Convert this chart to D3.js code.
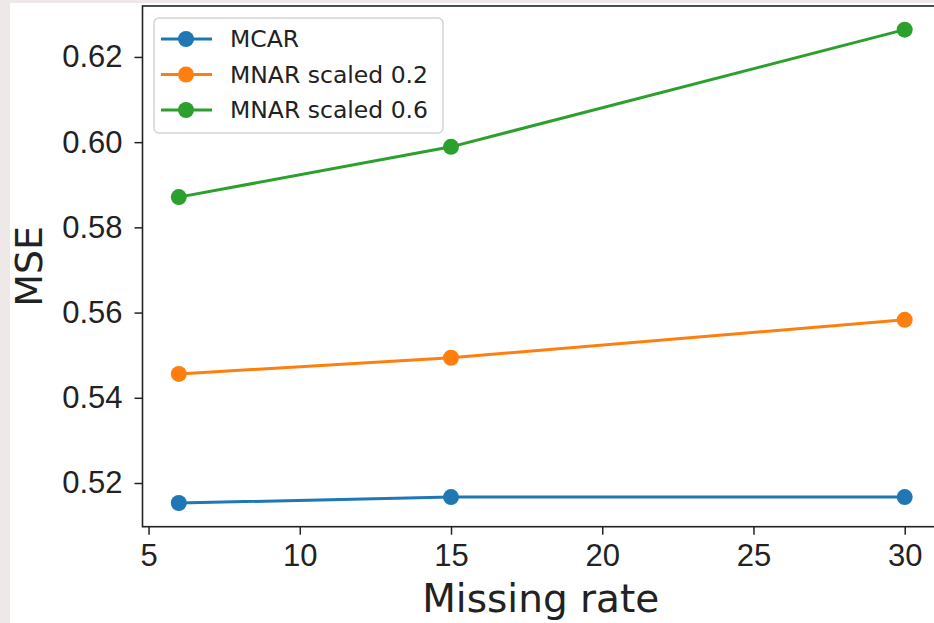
<!DOCTYPE html>
<html>
<head>
<meta charset="utf-8">
<script src="https://d3js.org/d3.v7.min.js"></script>
<style>
  body { margin: 0; background: #fff; }
  svg { display: block; font-family: "DejaVu Sans", sans-serif; }
</style>
</head>
<body>
<svg width="934" height="623"></svg>
<script>
// data
const missingRates = [6, 15, 30];
const seriesNames = ["MCAR", "MNAR scaled 0.2", "MNAR scaled 0.6"];
const mcar = [0.5153, 0.5167, 0.5167];
const mnar02 = [0.5456, 0.5494, 0.5583];
const mnar06 = [0.5871, 0.5989, 0.6264];
const xTicks = [5, 10, 15, 20, 25, 30];
const yTicks = [0.52, 0.54, 0.56, 0.58, 0.60, 0.62];
const colors = ["#1f77b4", "#ff7f0e", "#2ca02c"];

const series = [mcar, mnar02, mnar06].map((vals, i) => ({
  name: seriesNames[i],
  color: colors[i],
  points: vals.map((v, j) => ({x: missingRates[j], y: v}))
}));

const width = 934;
const height = 623;
const plot = {left: 142.5, right: 941, top: 6, bottom: 526.7};

const svg = d3.select('svg');

// page strip like the cropped screenshot
svg.append('rect').attr('width', width).attr('height', height).attr('fill', '#eee8e8');
svg.append('rect').attr('x', 10).attr('y', 3).attr('width', width - 10).attr('height', height - 3).attr('fill', '#fff');

// matplotlib style 5% margins
const xMin = d3.min(missingRates), xMax = d3.max(missingRates);
const xPad = (xMax - xMin) * 0.05;
const allY = [].concat(mcar, mnar02, mnar06);
const yMin = d3.min(allY), yMax = d3.max(allY);
const yPad = (yMax - yMin) * 0.05;

const x = d3.scaleLinear().domain([xMin - xPad, xMax + xPad]).range([plot.left, plot.right]);
const y = d3.scaleLinear().domain([yMin - yPad, yMax + yPad]).range([plot.bottom, plot.top]);

// axes
const xAxis = svg.append('g')
  .attr('transform', `translate(0,${plot.bottom})`)
  .call(d3.axisBottom(x).tickValues(xTicks).tickFormat(d3.format('d')).tickSize(8).tickPadding(9).tickSizeOuter(0));
const yAxis = svg.append('g')
  .attr('transform', `translate(${plot.left},0)`)
  .call(d3.axisLeft(y).tickValues(yTicks).tickFormat(d3.format('.2f')).tickSize(8).tickPadding(12).tickSizeOuter(0));

[xAxis, yAxis].forEach(ax => {
  ax.select('.domain').remove();
  ax.selectAll('.tick line').attr('stroke', '#222').attr('stroke-width', 1.5);
  ax.selectAll('.tick text').attr('fill', '#222').style('font-size', '31px');
});

// frame
svg.append('rect')
  .attr('x', plot.left).attr('y', plot.top)
  .attr('width', plot.right - plot.left).attr('height', plot.bottom - plot.top)
  .attr('fill', 'none').attr('stroke', '#222').attr('stroke-width', 1.6);

// lines and markers
const line = d3.line().x(d => x(d.x)).y(d => y(d.y));
const g = svg.append('g');
series.forEach(s => {
  g.append('path')
    .datum(s.points)
    .attr('d', line)
    .attr('fill', 'none')
    .attr('stroke', s.color)
    .attr('stroke-width', 3);
  g.selectAll(null)
    .data(s.points)
    .enter().append('circle')
    .attr('cx', d => x(d.x))
    .attr('cy', d => y(d.y))
    .attr('r', 8)
    .attr('fill', s.color);
});

// axis labels
svg.append('text')
  .attr('x', (plot.left + plot.right) / 2 - 1)
  .attr('y', 612)
  .attr('text-anchor', 'middle')
  .attr('fill', '#222')
  .style('font-size', '39px')
  .text('Missing rate');
svg.append('text')
  .attr('transform', `translate(42,${(plot.top + plot.bottom) / 2}) rotate(-90)`)
  .attr('text-anchor', 'middle')
  .attr('fill', '#222')
  .style('font-size', '38px')
  .text('MSE');

// legend
const legend = svg.append('g').attr('transform', 'translate(154,18)');
legend.append('rect')
  .attr('width', 289).attr('height', 115)
  .attr('rx', 5)
  .attr('fill', '#fff').attr('fill-opacity', 0.8)
  .attr('stroke', '#d4d4d4').attr('stroke-width', 1.5);
const rows = legend.selectAll('.row')
  .data(series)
  .enter().append('g')
  .attr('class', 'row')
  .attr('transform', (d, i) => `translate(0,${21 + i * 35.5})`);
rows.append('line')
  .attr('x1', 7).attr('x2', 58)
  .attr('stroke', d => d.color).attr('stroke-width', 3);
rows.append('circle')
  .attr('cx', 32).attr('r', 8)
  .attr('fill', d => d.color);
rows.append('text')
  .attr('x', 76).attr('dy', '0.35em')
  .attr('fill', '#222')
  .style('font-size', '23.5px')
  .text(d => d.name);
</script>
</body>
</html>
